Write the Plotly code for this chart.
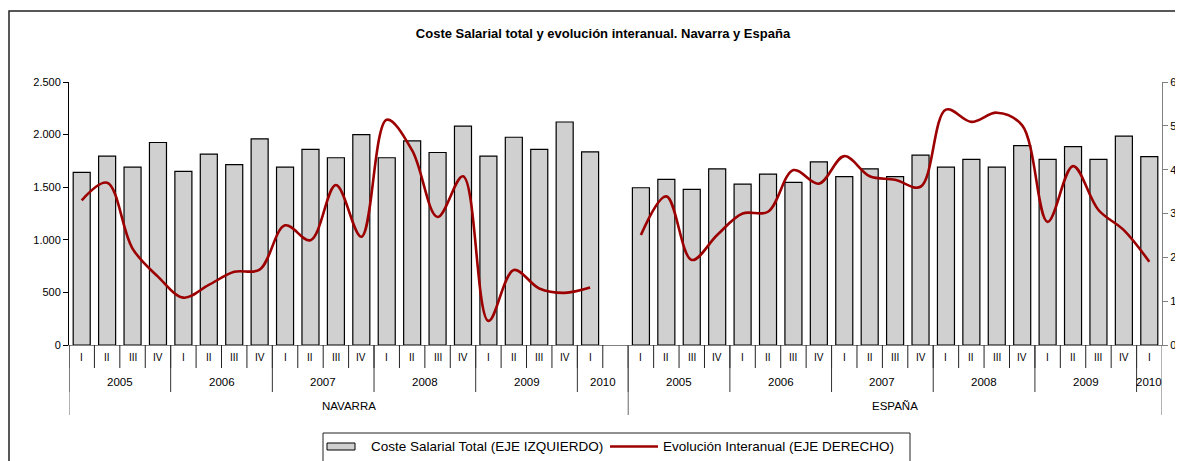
import plotly.graph_objects as go

title = "Coste Salarial total y evolución interanual. Navarra y España"
regions = ["NAVARRA", "ESPAÑA"]
years = ["2005", "2006", "2007", "2008", "2009", "2010"]
quarters_in_year = [4, 4, 4, 4, 4, 1]
quarter_names = ["I", "II", "III", "IV"]
series_names = ["Coste Salarial Total (EJE IZQUIERDO)", "Evolución Interanual (EJE DERECHO)"]

navarra_coste = [1640, 1795, 1690, 1925, 1650, 1815, 1715, 1960, 1690, 1860, 1780, 2000,
                 1780, 1940, 1830, 2080, 1795, 1975, 1860, 2120, 1835]
navarra_evol = [3.30, 3.70, 2.20, 1.56, 1.08, 1.37, 1.67, 1.72, 2.73, 2.39, 3.65, 2.47,
                5.14, 4.44, 2.92, 3.85, 0.55, 1.71, 1.29, 1.19, 1.31]
espana_coste = [1495, 1575, 1480, 1675, 1530, 1625, 1545, 1740, 1600, 1675, 1600, 1805,
                1690, 1765, 1690, 1895, 1765, 1885, 1765, 1985, 1790]
espana_evol = [2.51, 3.39, 1.94, 2.51, 3.00, 3.04, 3.99, 3.68, 4.31, 3.85, 3.77, 3.61,
               5.37, 5.09, 5.30, 5.01, 2.81, 4.08, 3.08, 2.62, 1.90]

coste = [navarra_coste, espana_coste]
evol = [navarra_evol, espana_evol]
gap_slots = [1, 0]   # empty category after each region

FONT = "Liberation Sans, Arial, sans-serif"
BAR_FILL = "#d0d0d0"
LINE_COL = "#9c0000"

# the page body adds an 8px offset, so the figure is 8px smaller than the window
OFF = 8
W, H = 1183 - OFF, 461 - OFF
PLOT_L, PLOT_R, PLOT_T, PLOT_B = 69, 1162, 82, 345   # target screen pixels
ML, MR, MT = PLOT_L - OFF, W - (PLOT_R - OFF), PLOT_T - OFF
MB = H - (PLOT_B - OFF)
PH = PLOT_B - PLOT_T
PW = PLOT_R - PLOT_L


def py(pix):
    """screen row -> paper y"""
    return (PLOT_B - pix) / PH


def px(pix):
    """screen column -> paper x"""
    return (pix - PLOT_L) / PW


def label(x, y, text, size, xref="x", xanchor="center"):
    return dict(x=x, y=y, xref=xref, yref="paper", text=text, showarrow=False,
                xanchor=xanchor, yanchor="middle",
                font=dict(size=size, color="black", family=FONT))


fig = go.Figure()
shapes = []
annotations = []

start = 0
region_bounds = [-0.5]
for r, name in enumerate(regions):
    n = len(coste[r])
    xs = list(range(start, start + n))
    fig.add_trace(go.Bar(
        x=xs, y=coste[r], width=0.67, name=series_names[0],
        marker=dict(color=BAR_FILL, line=dict(color="black", width=1.2)),
        showlegend=False, yaxis="y"))
    pos = start
    for yi, (yr, nq) in enumerate(zip(years, quarters_in_year)):
        span = nq + (gap_slots[r] if yi == len(years) - 1 else 0)
        for q in range(nq):
            annotations.append(label(pos + q, py(357), quarter_names[q], 10))
        annotations.append(label(pos + (span - 1) / 2, py(382), yr, 11.5))
        for k in range(span):
            shapes.append(dict(type="line", xref="x", yref="paper",
                               x0=pos + k - 0.5, x1=pos + k - 0.5, y0=0, y1=py(368),
                               line=dict(color="#222222", width=1)))
        shapes.append(dict(type="line", xref="x", yref="paper",
                           x0=pos - 0.5, x1=pos - 0.5, y0=0, y1=py(392),
                           line=dict(color="#333333", width=1)))
        pos += span
    end = start + n + gap_slots[r]
    annotations.append(label((start + end - 1) / 2, py(406), name, 11.5))
    region_bounds.append(end - 0.5)
    start = end

for b in region_bounds:
    shapes.append(dict(type="line", xref="x", yref="paper", x0=b, x1=b, y0=0, y1=py(415),
                       line=dict(color="#666666", width=1)))

start = 0
for r in range(len(regions)):
    n = len(evol[r])
    xs = list(range(start, start + n))
    fig.add_trace(go.Scatter(
        x=xs, y=evol[r], mode="lines", name=series_names[1],
        line=dict(color=LINE_COL, width=2.6, shape="spline", smoothing=1.0),
        showlegend=False, yaxis="y2"))
    start += n + gap_slots[r]

total_slots = start

# outer frame (continues past the right and bottom edges)
shapes.append(dict(type="rect", xref="paper", yref="paper", x0=px(9), x1=px(1200),
                   y0=py(480), y1=py(11), line=dict(color="#222222", width=1.5),
                   layer="below"))

# legend box drawn by hand (it runs off the bottom edge in the original)
shapes.append(dict(type="rect", xref="paper", yref="paper", x0=px(323), x1=px(910),
                   y0=py(475), y1=py(433), line=dict(color="#222222", width=1),
                   fillcolor="white", layer="below"))
shapes.append(dict(type="rect", xref="paper", yref="paper", x0=px(327), x1=px(355),
                   y0=py(450), y1=py(443), line=dict(color="black", width=1),
                   fillcolor=BAR_FILL))
shapes.append(dict(type="line", xref="paper", yref="paper", x0=px(610), x1=px(658),
                   y0=py(446.5), y1=py(446.5), line=dict(color=LINE_COL, width=2.6)))
annotations.append(label(px(369), py(446.5), series_names[0], 13.5, "paper", "left"))
annotations.append(label(px(661), py(446.5), series_names[1], 13.5, "paper", "left"))

fig.update_layout(
    width=W, height=H,
    margin=dict(l=ML, r=MR, t=MT, b=MB, autoexpand=False),
    paper_bgcolor="white", plot_bgcolor="white",
    separators=",.",
    font=dict(family=FONT, color="black", size=11),
    title=dict(text="<b>" + title + "</b>", x=(603 - OFF) / W, xanchor="center",
               y=1 - (33 - OFF) / H, yanchor="middle",
               font=dict(size=13, family=FONT, color="black")),
    barmode="overlay",
    showlegend=False,
    xaxis=dict(range=[-0.5, total_slots - 0.5], showline=True, linecolor="#808080",
               linewidth=1, showticklabels=False, ticks="", showgrid=False, zeroline=False,
               automargin=False),
    yaxis=dict(range=[0, 2500], dtick=500, tickformat=",d", showline=True,
               linecolor="black", linewidth=1, ticks="outside", ticklen=5,
               tickcolor="black", showgrid=False, zeroline=False, automargin=False,
               tickfont=dict(size=11, family=FONT, color="black")),
    yaxis2=dict(range=[0, 6], dtick=1, overlaying="y", side="right", showline=True,
                linecolor="#808080", linewidth=1, ticks="outside", ticklen=5,
                tickcolor="#808080", showgrid=False, zeroline=False, automargin=False,
                tickfont=dict(size=11, family=FONT, color="black")),
    shapes=shapes,
    annotations=annotations,
)

fig.write_html("out.html")
